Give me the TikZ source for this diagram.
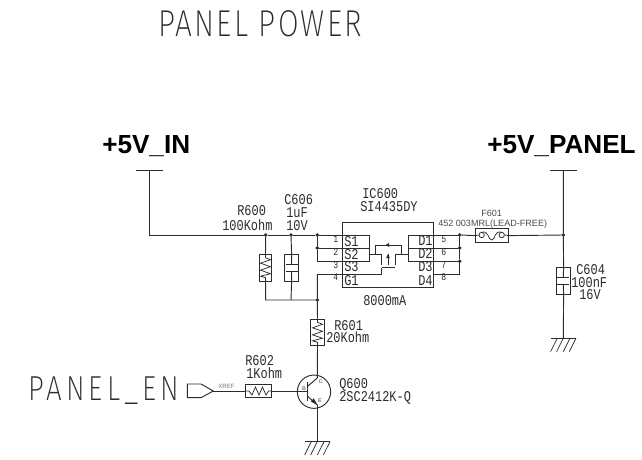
\documentclass[tikz,border=0pt]{standalone}
\usepackage{fontspec}
\usetikzlibrary{arrows.meta,calc}
\setmainfont{Liberation Sans}
\newfontfamily\cadfont[FakeStretch=0.8]{Liberation Mono}
\newfontfamily\cadbig[LetterSpace=6,FakeStretch=0.8]{Fira Sans ExtraLight}
\newfontfamily\cadbigb[LetterSpace=12,FakeStretch=0.8]{Fira Sans ExtraLight}
\definecolor{ink}{HTML}{2B2B2B}
\tikzset{
  wire/.style={draw=ink,line width=0.7pt},
  thin wire/.style={draw=ink,line width=0.55pt},
  comp/.style={draw=ink,line width=0.7pt,fill=white,inner sep=0,rectangle},
  dotj/.style={circle,fill=ink,draw=ink,line width=0.2pt,inner sep=0,minimum size=2.6pt},
  cad/.style={anchor=base west,inner sep=0,text=ink,font=\cadfont\fontsize{11.2}{12}\selectfont},
  pinno/.style={anchor=base west,inner sep=0,text=ink,font=\cadfont\fontsize{7.6}{8}\selectfont},
  big/.style={anchor=base west,inner sep=0,text=ink,font=\cadbig\fontsize{28}{30}\selectfont},
  bigb/.style={anchor=base west,inner sep=0,text=ink,font=\cadbigb\fontsize{26}{28}\selectfont},
  head/.style={anchor=base west,inner sep=0,text=black,font=\bfseries\fontsize{19.6}{22}\selectfont},
  small/.style={anchor=base west,inner sep=0,text=ink!85,font=\fontsize{6.8}{8}\selectfont},
  tiny/.style={anchor=center,inner sep=0,text=ink!65,font=\bfseries\fontsize{4}{5}\selectfont},
}
\newcommand{\gndsym}[2]{%
  \draw[wire] (#1-12,#2) -- (#1+13,#2);
  \foreach \dx in {-6,0,6.7,12.7} \draw[thin wire] (#1+\dx,#2) -- (#1+\dx-6.7,#2+13.3);
}
\newcommand{\zigv}[2]{% centre x, centre y
  \draw[thin wire] (#1,#2-13.5) -- (#1,#2-10) -- (#1+5,#2-8) -- (#1-5,#2-4.5) -- (#1+5,#2-1) -- (#1-5,#2+2.5) -- (#1+5,#2+6) -- (#1-5,#2+8.5) -- (#1,#2+10) -- (#1,#2+13.5);
}
\newcommand{\capv}[4]{% x, y1, y2, halfwidth
  \draw[wire] (#1-#4,#2) -- (#1+#4,#2);
  \draw[wire] (#1-#4,#3) -- (#1+#4,#3);
}
\begin{document}
\begin{tikzpicture}[x=0.75pt,y=-0.75pt]
\useasboundingbox (0,0) rectangle (642,460);
% ---------- titles
\node[big] (title) at (158,37) {PANEL POWER};
\node[bigb] (enlabel) at (28,400) {PANEL\_EN};
\node[head] (vin) at (102,153) {+5V\_IN};
\node[head] (vpanel) at (487,153) {+5V\_PANEL};
% ---------- junctions
\coordinate (vinT) at (149,170);
\coordinate (vinC) at (149,235);
\node[dotj] (j1) at (265.7,235) {};
\node[dotj] (j2) at (291,235) {};
\node[dotj] (j3) at (317.3,235) {};
\node[dotj] (j4) at (317.3,248) {};
\coordinate (s3c) at (317.3,261.7);
\coordinate (g1c) at (317.3,274);
\node[dotj] (j6) at (317.3,300) {};
\coordinate (r6b) at (265.7,300);
\coordinate (c6b) at (291,300);
\node[dotj] (j7) at (459.7,235) {};
\node[dotj] (j8) at (459.7,248) {};
\node[dotj] (j9) at (459.7,261.3) {};
\coordinate (j10) at (459.7,274);
\node[dotj] (j11) at (563.3,235) {};
\coordinate (vpT) at (563.3,170);
\coordinate (gndR) at (563.3,338.3);
\coordinate (gndQ) at (317.3,441.7);
% ---------- components
\node[comp,minimum width=9.6pt,minimum height=20pt] (R600) at (265.5,267.7) {};
\node[comp,minimum width=10pt,minimum height=20pt] (C606) at (291.6,267.7) {};
\node[comp,minimum width=10pt,minimum height=20pt] (C604) at (563.6,280.8) {};
\node[comp,minimum width=10pt,minimum height=20pt] (R601) at (317.5,332.3) {};
\node[comp,minimum width=19.3pt,minimum height=10pt] (R602) at (258.8,391) {};
\node[comp,minimum width=24.5pt,minimum height=10pt] (F601) at (492,235.6) {};
\node[comp,minimum width=67.8pt,minimum height=48.8pt,fill=none] (IC) at (388,254.5) {};
\node[draw=ink,line width=0.7pt,circle,inner sep=0,minimum size=25pt] (Q) at (314,391.7) {};
% ---------- connector (off-page flag)
\coordinate (flagA) at (187.3,384);
\coordinate (flagB) at (201,384);
\coordinate (flagTip) at (213.3,391);
\coordinate (flagC) at (201,397.7);
\coordinate (flagD) at (187.3,397.7);
\draw[wire] (flagA) -- (flagB) -- (flagTip) -- (flagC) -- (flagD) -- cycle;
% ---------- wires
\draw[wire] (vinT) -- (vinC) -- (j1) -- (j2) -- (j3);
\draw[wire] (135.5,170) -- (162.5,170);
\draw[wire] (550,170) -- (577,170);
\draw[wire] (j1) -- (R600.north);
\draw[wire] (R600.south) -- (r6b) -- (j6);
\draw[wire] (j2) -- (C606.north);
\draw[wire] (C606.south) -- (c6b);
\draw[wire] (j3) -- (j4) -- (s3c);
\draw[wire] (g1c) -- (j6) -- (R601.north);
\draw[wire] (R601.south) -- (317.3,378);
\draw[wire] (317.3,405) -- (gndQ);
\draw[wire] (j3) -- (369.3,235);
\draw[wire] (j4) -- (369.3,248);
\draw[wire] (s3c) -- (369.3,261.7);
\draw[wire] (g1c) -- (381.7,274) -- (381.7,267.7);
\draw[wire] (369.3,235) -- (369.3,261.7);
\draw[wire] (369.3,254.3) -- (381.7,254.3) -- (381.7,265);
\draw[wire] (375,254.3) -- (375,245) -- (401.7,245) -- (401.7,254.3);
\draw[wire] (395,265) -- (395,254.3) -- (408,254.3);
\draw[wire] (381.7,267.7) -- (395,267.7);
\draw[wire] (388,254.3) -- (388,265);
\fill[ink] (388,254) -- (386.2,258) -- (389.8,258) -- cycle;
\fill[ink] (385.6,245) -- (389,243) -- (389,247) -- cycle;
\draw[wire] (408,235) -- (408,261.3);
\draw[wire] (408,235) -- (j7);
\draw[wire] (408,248) -- (j8);
\draw[wire] (408,261.3) -- (j9);
\draw[wire] (433,274) -- (j10);
\draw[wire] (j7) -- (j8) -- (j9) -- (j10);
\draw[wire] (j7) -- (F601.west);
\draw[wire] (F601.east) -- (j11);
\draw[wire] (vpT) -- (j11) -- (C604.north);
\draw[wire] (C604.south) -- (gndR);
\draw[wire] (flagTip) -- (R602.west);
\draw[wire] (R602.east) -- (307.3,391);
% ---------- symbols
\zigv{265.5}{267.7}
\zigv{317.5}{332.3}
\capv{291.5}{264.5}{271.5}{6}
\draw[wire] (C606.north) -- (291.5,264.5) (291.5,271.5) -- (C606.south);
\capv{563.3}{277.3}{284}{6}
\draw[wire] (C604.north) -- (563.3,277.3) (563.3,284) -- (C604.south);
\draw[thin wire] (R602.west) -- (249,391) -- (252,395) -- (255.5,387) -- (259,395) -- (262.5,387) -- (266,395) -- (268.5,391) -- (R602.east);
% fuse
\draw[thin wire] (F601.west) -- (479,235);
\draw[thin wire] (481.7,235) circle (2.7);
\draw[thin wire] (501.7,235) circle (2.7);
\draw[thin wire] (481.7,232.3) .. controls (489,230) and (488,240) .. (491.7,240) .. controls (495.5,240) and (494,230) .. (501.7,232.3);
\draw[thin wire] (504.4,235) -- (F601.east);
% transistor
\draw[wire,line width=1pt] (307.3,381.7) -- (307.3,400.7);
\draw[wire] (307.3,386.5) -- (317.3,378);
\draw[wire] (307.3,396) -- (317.3,405);
\fill[ink] (317.3,405) -- (310.8,401.5) -- (313.8,398.2) -- cycle;
\gndsym{563.3}{338.3}
\gndsym{317.3}{441.7}
% ---------- labels
\node[cad] (t1) at (237,215.5) {R600};
\node[cad] (t2) at (222,230) {100Kohm};
\node[cad] (t3) at (284,204) {C606};
\node[cad] (t4) at (286,217) {1uF};
\node[cad] (t5) at (286,230) {10V};
\node[cad] (t6) at (362,198) {IC600};
\node[cad] (t7) at (360,211) {SI4435DY};
\node[cad] (t8) at (363,305) {8000mA};
\node[cad] (p1) at (344,246) {S1};
\node[cad] (p2) at (344,259) {S2};
\node[cad] (p3) at (344,271.7) {S3};
\node[cad] (p4) at (344,285) {G1};
\node[cad] (p5) at (418,245.5) {D1};
\node[cad] (p6) at (418,258) {D2};
\node[cad] (p7) at (418,271) {D3};
\node[cad] (p8) at (418,285) {D4};
\node[pinno] (n1) at (333,242.5) {1};
\node[pinno] (n2) at (333,255) {2};
\node[pinno] (n3) at (333,268) {3};
\node[pinno] (n4) at (333,280.5) {4};
\node[pinno] (n5) at (441,242.7) {5};
\node[pinno] (n6) at (441,255.5) {6};
\node[pinno] (n7) at (441,268) {7};
\node[pinno] (n8) at (441,280.5) {8};
\node[small] (t9) at (481,216) {F601};
\node[small] (t10) at (438,226) {452 003MRL(LEAD-FREE)};
\node[cad] (t11) at (576,274) {C604};
\node[cad] (t12) at (571,287) {100nF};
\node[cad] (t13) at (579,299.5) {16V};
\node[cad] (t14) at (334,330) {R601};
\node[cad] (t15) at (326,342.5) {20Kohm};
\node[cad] (t16) at (245,365) {R602};
\node[cad] (t17) at (246,378) {1Kohm};
\node[cad] (t18) at (339,388.5) {Q600};
\node[cad] (t19) at (339,401.5) {2SC2412K-Q};
\node[tiny,font=\fontsize{4.6}{5}\selectfont] (xr) at (226.5,386.3) {XREF};
\node[tiny] (qb) at (304,388.5) {B};
\node[tiny] (qc) at (320.7,381.7) {C};
\node[tiny] (qe) at (320,400.7) {E};
\end{tikzpicture}
\end{document}
